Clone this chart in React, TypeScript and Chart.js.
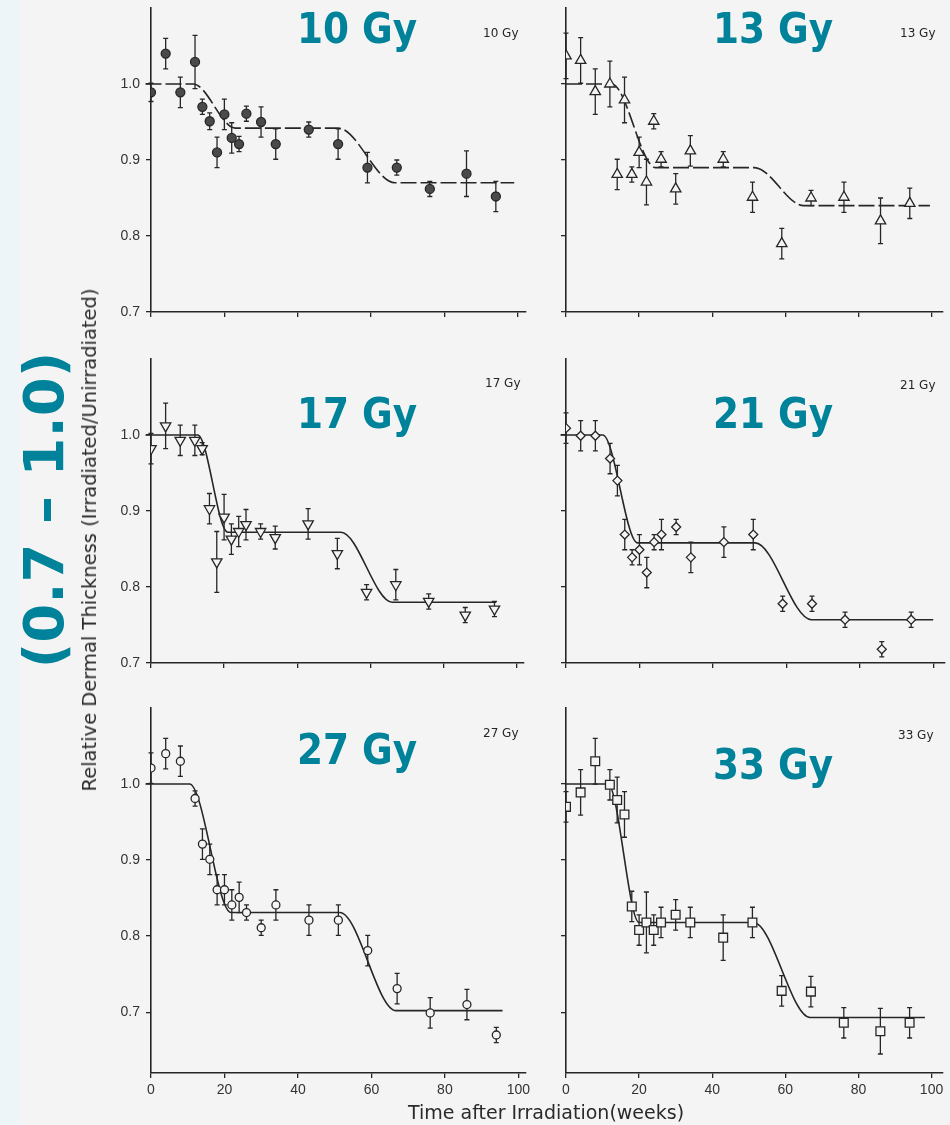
import React, { useEffect, useRef } from "react";
import { Chart, registerables } from "chart.js";
Chart.register(...registerables);

// ---------- data ----------
const weeks = [0, 4, 8, 12, 14, 16, 18, 20, 22, 24, 26, 30, 34, 43, 51, 59, 67, 76, 86, 94];
const xTicks = [0, 20, 40, 60, 80, 100];
const yTicks = [0.7, 0.8, 0.9, 1.0];

const y10 = [0.989, 1.040, 0.989, 1.029, 0.970, 0.951, 0.910, 0.960, 0.929, 0.921, 0.961, 0.950, 0.921, 0.940, 0.921, 0.890, 0.890, 0.862, 0.882, 0.852];
const e10 = [0.012, 0.02, 0.02, 0.035, 0.01, 0.011, 0.02, 0.02, 0.02, 0.01, 0.01, 0.02, 0.02, 0.01, 0.02, 0.02, 0.01, 0.01, 0.03, 0.02];
const fx10 = [-1.5, 11.5, 23, 51, 66.5, 99];
const fy10 = [1.0, 1.0, 0.942, 0.942, 0.87, 0.87];

const y13 = [1.037, 1.031, 0.990, 1.000, 0.881, 0.979, 0.881, 0.910, 0.871, 0.951, 0.901, 0.862, 0.912, 0.901, 0.851, 0.790, 0.850, 0.851, 0.820, 0.843];
const e13 = [0.03, 0.03, 0.03, 0.03, 0.02, 0.03, 0.01, 0.02, 0.03, 0.01, 0.01, 0.02, 0.02, 0.01, 0.02, 0.02, 0.01, 0.02, 0.03, 0.02];
const fx13 = [0, 12.5, 24.5, 51.5, 65, 99.5];
const fy13 = [1.0, 1.0, 0.89, 0.89, 0.84, 0.84];

const y17 = [0.982, 1.012, 0.993, 0.993, 0.982, 0.903, 0.833, 0.892, 0.863, 0.873, 0.882, 0.873, 0.865, 0.883, 0.844, 0.793, 0.803, 0.781, 0.763, 0.771];
const e17 = [0.02, 0.03, 0.02, 0.02, 0.008, 0.02, 0.04, 0.03, 0.02, 0.02, 0.02, 0.01, 0.015, 0.02, 0.02, 0.01, 0.02, 0.01, 0.01, 0.01];
const fx17 = [-1.5, 12.8, 21, 52, 66, 94.5];
const fy17 = [1.0, 1.0, 0.872, 0.872, 0.78, 0.78];

const y21 = [1.009, 0.999, 0.999, 0.969, 0.940, 0.869, 0.839, 0.849, 0.819, 0.859, 0.869, 0.879, 0.839, 0.859, 0.869, 0.778, 0.778, 0.757, 0.718, 0.757];
const e21 = [0.02, 0.02, 0.02, 0.02, 0.02, 0.02, 0.01, 0.02, 0.02, 0.01, 0.02, 0.01, 0.02, 0.02, 0.02, 0.01, 0.01, 0.01, 0.01, 0.01];
const fx21 = [-1.5, 10, 19.5, 51.5, 66.8, 100];
const fy21 = [1.0, 1.0, 0.858, 0.858, 0.757, 0.757];

const y27 = [1.021, 1.040, 1.030, 0.981, 0.921, 0.901, 0.861, 0.861, 0.841, 0.851, 0.831, 0.811, 0.841, 0.821, 0.821, 0.781, 0.731, 0.699, 0.710, 0.670];
const e27 = [0.02, 0.02, 0.02, 0.01, 0.02, 0.02, 0.02, 0.02, 0.02, 0.02, 0.01, 0.01, 0.02, 0.02, 0.02, 0.02, 0.02, 0.02, 0.02, 0.01];
const fx27 = [-1.5, 10.5, 21.8, 51.4, 66.7, 95.7];
const fy27 = [1.0, 1.0, 0.831, 0.831, 0.702, 0.702];

const y33 = [0.970, 0.989, 1.030, 0.999, 0.979, 0.960, 0.839, 0.808, 0.818, 0.808, 0.818, 0.828, 0.818, 0.798, 0.818, 0.728, 0.727, 0.686, 0.675, 0.686];
const e33 = [0.02, 0.03, 0.03, 0.02, 0.03, 0.03, 0.02, 0.02, 0.04, 0.02, 0.02, 0.02, 0.02, 0.03, 0.02, 0.02, 0.02, 0.02, 0.03, 0.02];
const fx33 = [0, 11.5, 20, 51.3, 66.8, 98.2];
const fy33 = [1.0, 1.0, 0.818, 0.818, 0.693, 0.693];

const doses = ["10 Gy", "13 Gy", "17 Gy", "21 Gy", "27 Gy", "33 Gy"];
const yTitle = "Relative Dermal Thickness (Irradiated/Unirradiated)";
const xTitle = "Time after Irradiation(weeks)";
const rangeNote = "(0.7 \u2013 1.0)";

// ---------- layout / style ----------
const BG = "#f4f4f4";
const INK = "#262626";
const TEAL = "#00839a";
const PX_PER_WEEK = 3.71;
const colAxisX = [151, 566];
const colXMax = [102, 103];
const rowTop = [8, 359, 708];
const rowBottom = [312, 663, 1073];
const rowYMin = [0.7, 0.7, 0.62];
const Y_MAX = 1.1;
const L = 70, R = 2, T = 12;

type Panel = {
  dose: string; col: number; row: number; values: number[]; errors: number[];
  fitX: number[]; fitY: number[]; style: string; rotation: number; radius: number;
  filled: boolean; dashed: boolean;
  bigLabel: [number, number];
};

const panels: Panel[] = [
  { dose: doses[0], col: 0, row: 0, values: y10, errors: e10, fitX: fx10, fitY: fy10, style: "circle", rotation: 0, radius: 4.5, filled: true, dashed: true, bigLabel: [297, 12] },
  { dose: doses[1], col: 1, row: 0, values: y13, errors: e13, fitX: fx13, fitY: fy13, style: "triangle", rotation: 0, radius: 6, filled: false, dashed: true, bigLabel: [713, 12] },
  { dose: doses[2], col: 0, row: 1, values: y17, errors: e17, fitX: fx17, fitY: fy17, style: "triangle", rotation: 180, radius: 6, filled: false, dashed: false, bigLabel: [297, 397] },
  { dose: doses[3], col: 1, row: 1, values: y21, errors: e21, fitX: fx21, fitY: fy21, style: "rectRot", rotation: 0, radius: 4.5, filled: false, dashed: false, bigLabel: [713, 397] },
  { dose: doses[4], col: 0, row: 2, values: y27, errors: e27, fitX: fx27, fitY: fy27, style: "circle", rotation: 0, radius: 4, filled: false, dashed: false, bigLabel: [297, 733] },
  { dose: doses[5], col: 1, row: 2, values: y33, errors: e33, fitX: fx33, fitY: fy33, style: "rect", rotation: 0, radius: 6.2, filled: false, dashed: false, bigLabel: [713, 748] },
];

const errorBarPlugin = {
  id: "errbars",
  beforeDatasetsDraw(chart: any, _args: any, opts: any) {
    const errs: number[] = opts.errors || [];
    const ds = chart.data.datasets[0];
    const xs = chart.scales.x, ys = chart.scales.y;
    const ctx = chart.ctx;
    ctx.save();
    ctx.strokeStyle = INK;
    ctx.lineWidth = 1.3;
    ds.data.forEach((p: any, i: number) => {
      const e = errs[i];
      if (!e) return;
      const x = xs.getPixelForValue(p.x);
      const yt = ys.getPixelForValue(p.y + e);
      const yb = ys.getPixelForValue(p.y - e);
      ctx.beginPath();
      ctx.moveTo(x, yt); ctx.lineTo(x, yb);
      ctx.moveTo(x - 2.5, yt); ctx.lineTo(x + 2.5, yt);
      ctx.moveTo(x - 2.5, yb); ctx.lineTo(x + 2.5, yb);
      ctx.stroke();
    });
    ctx.restore();
  },
};

function PanelChart({ p }: { p: Panel }) {
  const ref = useRef<HTMLCanvasElement | null>(null);
  const B = p.row === 2 ? 45 : 10;
  const axisX = colAxisX[p.col];
  const xMax = colXMax[p.col];
  const w = L + Math.round(xMax * PX_PER_WEEK) + R;
  const h = T + (rowBottom[p.row] - rowTop[p.row]) + B;
  const left = axisX - L;
  const top = rowTop[p.row] - T;

  useEffect(() => {
    if (!ref.current) return;
    const pts = weeks.map((wk, i) => ({ x: wk, y: p.values[i] }));
    const fit = p.fitX.map((x, i) => ({ x, y: p.fitY[i] }));
    const tickFontX = { family: "Liberation Sans", size: 14 };
    const tickFontY = { family: "Liberation Sans", size: 14 };
    const fixPad = (s: any) => { s.paddingLeft = 0; s.paddingRight = 0; s.paddingTop = 0; s.paddingBottom = 0; };
    const chart = new Chart(ref.current, {
      type: "scatter",
      data: {
        datasets: [
          {
            type: "scatter",
            data: pts,
            order: 0,
            pointStyle: p.style as any,
            rotation: p.rotation,
            pointRadius: p.radius,
            pointBackgroundColor: p.filled ? "#4a4a4a" : BG,
            pointBorderColor: INK,
            pointBorderWidth: 1.3,
          } as any,
          {
            type: "line",
            data: fit,
            order: 1,
            borderColor: INK,
            borderWidth: 1.6,
            pointRadius: 0,
            cubicInterpolationMode: "monotone",
            borderDash: p.dashed ? [16, 4] : [],
            clip: false,
            fill: false,
          } as any,
        ],
      },
      options: {
        animation: false,
        responsive: false,
        maintainAspectRatio: false,
        events: [],
        layout: { padding: { top: T, right: R, left: 0, bottom: 0 } },
        plugins: {
          legend: { display: false },
          tooltip: { enabled: false },
          errbars: { errors: p.errors },
        } as any,
        scales: {
          x: {
            type: "linear",
            min: 0,
            max: xMax,
            afterBuildTicks: (s: any) => { s.ticks = xTicks.map((v) => ({ value: v })); },
            afterFit: (s: any) => { s.height = B; fixPad(s); },
            grid: { display: true, drawOnChartArea: false, drawTicks: true, tickLength: 5, color: INK, lineWidth: 1.3 },
            border: { display: true, color: INK, width: 1.6 },
            ticks: {
              display: p.row === 2,
              font: tickFontX,
              color: "#333",
              padding: 4,
              maxRotation: 0,
              autoSkip: false,
              callback: (v: any) => String(v),
            },
          },
          y: {
            type: "linear",
            min: rowYMin[p.row],
            max: Y_MAX,
            afterBuildTicks: (s: any) => { s.ticks = yTicks.map((v) => ({ value: v })); },
            afterFit: (s: any) => { s.width = L; fixPad(s); },
            grid: { display: true, drawOnChartArea: false, drawTicks: true, tickLength: 5, color: INK, lineWidth: 1.3 },
            border: { display: true, color: INK, width: 1.6 },
            ticks: {
              display: p.col === 0,
              font: tickFontY,
              color: "#333",
              padding: 6,
              autoSkip: false,
              callback: (v: any) => Number(v).toFixed(1),
            },
          },
        },
      } as any,
      plugins: [errorBarPlugin],
    });
    return () => chart.destroy();
  }, []);

  return (
    <canvas
      ref={ref}
      width={w}
      height={h}
      style={{ position: "absolute", left, top, width: w, height: h }}
    />
  );
}

const smallLabelPos: [number, number][] = [[483, 28], [900, 28], [485, 378], [900, 380], [483, 728], [898, 730]];

export default function App() {
  return (
    <div
      style={{
        position: "absolute", left: 0, top: 0, width: 950, height: 1125,
        background: BG, overflow: "hidden", fontFamily: "DejaVu Sans, sans-serif",
      }}
    >
      <div style={{ position: "absolute", left: 0, top: 0, width: 19, height: 1125, background: "#edf5f8" }} />
      {panels.map((p, i) => (
        <PanelChart key={i} p={p} />
      ))}
      {panels.map((p, i) => (
        <div key={"s" + i} style={{
          position: "absolute", left: smallLabelPos[i][0], top: smallLabelPos[i][1] - 1.5,
          fontSize: 12, lineHeight: "12px", color: INK, whiteSpace: "nowrap", fontFamily: "DejaVu Sans",
        }}>{p.dose}</div>
      ))}
      {panels.map((p, i) => (
        <div key={"b" + i} style={{
          position: "absolute", left: p.bigLabel[0], top: p.bigLabel[1] - 5,
          fontSize: 43, lineHeight: "43px", fontWeight: "bold", color: TEAL, whiteSpace: "nowrap",
          fontFamily: "DejaVu Sans", transform: "scaleX(0.87)", transformOrigin: "left top",
        }}>{p.dose}</div>
      ))}
      <div style={{
        position: "absolute", left: 90, top: 540, transform: "translate(-50%, -50%) rotate(-90deg)",
        fontSize: 19.5, lineHeight: "20px", color: "#2a2a2a", whiteSpace: "nowrap", fontFamily: "DejaVu Sans",
      }}>{yTitle}</div>
      <div style={{
        position: "absolute", left: 546, top: 1112, transform: "translate(-50%, -50%)",
        fontSize: 19, lineHeight: "19px", color: "#2a2a2a", whiteSpace: "nowrap", fontFamily: "DejaVu Sans",
      }}>{xTitle}</div>
      <div style={{
        position: "absolute", left: 44, top: 510, transform: "translate(-50%, -50%) rotate(-90deg)",
        fontSize: 56, lineHeight: "56px", fontWeight: "bold", color: TEAL, whiteSpace: "nowrap",
        fontFamily: "DejaVu Sans",
      }}>{rangeNote}</div>
    </div>
  );
}
